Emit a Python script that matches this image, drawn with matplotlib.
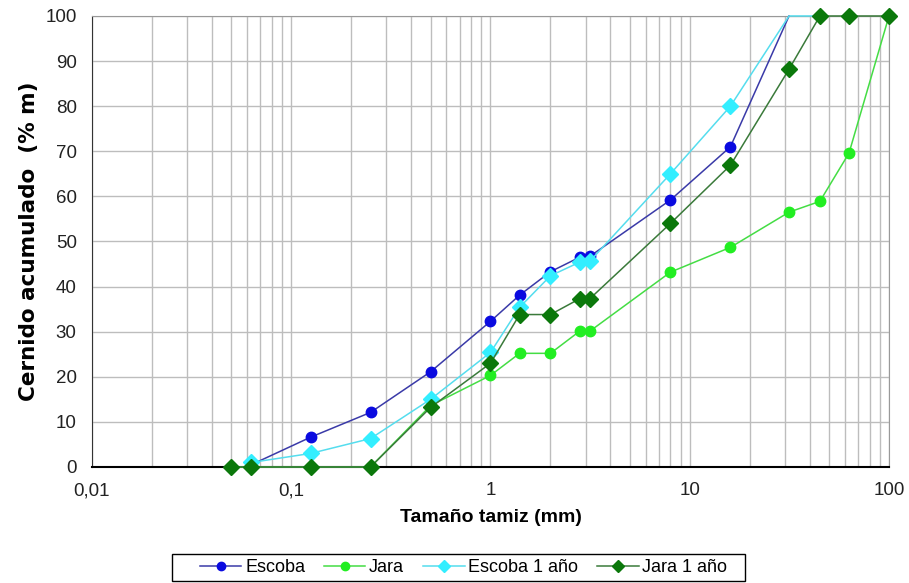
import numpy as np
import matplotlib.pyplot as plt
from matplotlib.patches import Rectangle
from matplotlib.ticker import FixedLocator, LogLocator, FuncFormatter

plt.rcParams['font.family'] = ['Liberation Sans', 'DejaVu Sans']

# sieve sizes (mm)
tamiz = [0.05, 0.063, 0.125, 0.25, 0.5, 1, 1.4, 2, 2.8, 3.15, 8, 16, 31.5, 45, 63, 100]

escoba = [np.nan, 0.5, 6.6, 12.1, 21.1, 32.3, 38.1, 43.3, 46.5, 46.7, 59.2, 71.0, 100, np.nan, np.nan, np.nan]
jara = [0, 0, 0, 0, 13.6, 20.3, 25.2, 25.2, 30.1, 30.1, 43.2, 48.7, 56.5, 58.9, 69.6, 100]
escoba_1 = [np.nan, 1.0, 3.0, 6.3, 15.0, 25.4, 35.4, 42.4, 45.4, 45.6, 65.0, 80.0, 100, 100, np.nan, np.nan]
jara_1 = [0, 0, 0, 0, 13.2, 23.0, 33.8, 33.8, 37.3, 37.3, 54.0, 66.9, 88.2, 100, 100, 100]

x = np.array(tamiz)

fig = plt.figure(figsize=(9.09, 5.83), dpi=100)
ax = fig.add_axes([0.1012, 0.199, 0.8768, 0.7736])

def plot_serie(y, color, lcolor, marker, ms, label, hide_top=False):
    y = np.array(y, dtype=float)
    ok = ~np.isnan(y)
    xs, ys = x[ok], y[ok]
    mk = list(range(len(xs)))
    if hide_top:
        mk = [i for i in mk if ys[i] < 100]
    ax.plot(xs, ys, color=lcolor, lw=1.1, marker=marker, markersize=ms,
            markerfacecolor=color, markeredgecolor=color, markevery=mk,
            label=label, clip_on=False, zorder=3)

plot_serie(escoba, '#0a0ae0', '#3a3aa8', 'o', 7.5, 'Escoba', hide_top=True)
plot_serie(jara, '#22ee22', '#44dd44', 'o', 7.5, 'Jara')
plot_serie(escoba_1, '#33eeff', '#55ddee', 'D', 8.5, 'Escoba 1 año', hide_top=True)
plot_serie(jara_1, '#0b780b', '#3a7a3a', 'D', 8.5, 'Jara 1 año')

ax.set_xscale('log')
ax.set_xlim(0.01, 100)
ax.set_ylim(0, 100)
ax.yaxis.set_major_locator(FixedLocator(np.arange(0, 101, 10)))
ax.xaxis.set_major_locator(FixedLocator([0.01, 0.1, 1, 10, 100]))
ax.xaxis.set_minor_locator(LogLocator(base=10, subs=np.arange(2, 10)))
ax.xaxis.set_major_formatter(FuncFormatter(lambda v, p: ('%g' % v).replace('.', ',')))
ax.xaxis.set_minor_formatter(FuncFormatter(lambda v, p: ''))

ax.grid(True, which='both', axis='x', color='#bdbdbd', lw=1)
ax.grid(True, which='major', axis='y', color='#bdbdbd', lw=1)
ax.set_axisbelow(True)

ax.tick_params(which='both', length=0, labelsize=13.5, colors='#222222')
ax.tick_params(axis='y', pad=11)
ax.tick_params(axis='x', pad=11)

for s in ['top', 'right']:
    ax.spines[s].set_color('#999999')
ax.spines['left'].set_color('#333333')
ax.spines['bottom'].set_color('black')
ax.spines['bottom'].set_linewidth(1.5)

ax.set_xlabel('Tamaño tamiz (mm)', fontsize=14, fontweight='bold')
ax.xaxis.set_label_coords(0.5, -0.093)
ax.set_ylabel('Cernido acumulado  (% m)', fontsize=15.5, fontweight='bold',
              family=['DejaVu Sans'])
ax.yaxis.set_label_coords(-0.066, 0.5)

# legend without its own frame; box drawn separately (wider padding like the original)
leg = fig.legend(loc='center', bbox_to_anchor=(0.51, 0.0266), ncol=4, fontsize=13,
                 frameon=False, handlelength=2.3, columnspacing=1.05,
                 borderpad=0.2, borderaxespad=0, handletextpad=0.2)
for h in leg.legend_handles:
    h.set_markersize(6)
fig.patches.append(Rectangle((172 / 909, 2 / 583), 573 / 909, 27 / 583,
                             transform=fig.transFigure, fill=False,
                             edgecolor='black', lw=1))

fig.savefig('out.png', dpi=100)
